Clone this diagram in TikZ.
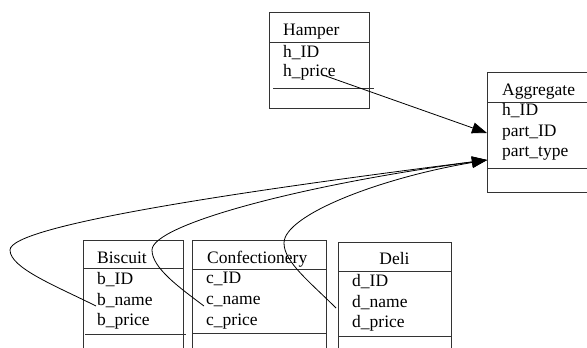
\documentclass[tikz,border=0pt]{standalone}
\usepackage{fontspec}
\setmainfont{Liberation Serif}
\usetikzlibrary{arrows.meta}
\begin{document}
\begin{tikzpicture}[x=1pt,y=-1pt,
  tbl/.style={draw=black!80,line width=0.9pt,inner sep=0,outer sep=0,anchor=north west},
  sep/.style={draw=black!80,line width=0.9pt},
  txt/.style={inner sep=0,anchor=base west,font=\fontsize{17.5}{21}\selectfont},
  link/.style={draw=black,line width=0.8pt,-{Triangle[length=15pt,width=11pt]}}]
\useasboundingbox (0,0) rectangle (587,348);
% Hamper
\node[tbl,minimum width=100pt,minimum height=96pt] (hamper) at (269,12) {};
\draw[sep] (269,42) -- (369,42);
\draw[sep] (273,88) -- (374,88);
\node[txt] (hT) at (283,35) {Hamper};
\node[txt] (hID) at (283,57) {h\_ID};
\node[txt] (hPrice) at (283,76) {h\_price};
% Aggregate
\node[tbl,minimum width=120pt,minimum height=120pt] (agg) at (487,72) {};
\draw[sep] (487,102) -- (600,102);
\draw[sep] (487,168) -- (600,168);
\node[txt] (aT) at (502,95) {Aggregate};
\node[txt] (aH) at (502,115) {h\_ID};
\node[txt] (aP) at (502,136) {part\_ID};
\node[txt] (aT2) at (502,156) {part\_type};
% Biscuit
\node[tbl,minimum width=100pt,minimum height=130pt] (bis) at (83,240) {};
\draw[sep] (83,268) -- (183,268);
\draw[sep] (85,334) -- (186,334);
\node[txt] (bT) at (97,263) {Biscuit};
\node[txt] (bID) at (97,284) {b\_ID};
\node[txt] (bName) at (97,305) {b\_name};
\node[txt] (bPrice) at (97,325) {b\_price};
% Confectionery
\node[tbl,minimum width=134pt,minimum height=130pt] (con) at (192,240) {};
\draw[sep] (192,269) -- (326,269);
\draw[sep] (192,333) -- (326,333);
\node[txt] (cT) at (207,263) {Confectionery};
\node[txt] (cID) at (206,283) {c\_ID};
\node[txt] (cName) at (206,304) {c\_name};
\node[txt] (cPrice) at (206,325) {c\_price};
% Deli
\node[tbl,minimum width=113pt,minimum height=130pt] (deli) at (338,242) {};
\draw[sep] (338,271) -- (451,271);
\draw[sep] (338,336) -- (451,336);
\node[txt,anchor=base] (dT) at (394.5,264) {Deli};
\node[txt] (dID) at (352,286) {d\_ID};
\node[txt] (dName) at (352,307) {d\_name};
\node[txt] (dPrice) at (352,327) {d\_price};
% connector ends
\coordinate (hS) at (323,75);
\coordinate (aIn1) at (487,133);
\coordinate (aIn2) at (487,160);
\coordinate (bS) at (96,306);
\coordinate (cS) at (204,306);
\coordinate (dS) at (336,308);
\draw[link] (hS) -- (aIn1);
\draw[link] (bS) .. controls (56,286) and (10,268) .. (10,250)
  .. controls (10,225) and (250,190) .. (aIn2);
\draw[link] (cS) .. controls (180,288) and (152,268) .. (152,250)
  .. controls (152,225) and (300,185) .. (aIn2);
\draw[link] (dS) .. controls (310,282) and (284,262) .. (284,243)
  .. controls (284,215) and (380,178) .. (aIn2);
\end{tikzpicture}
\end{document}
